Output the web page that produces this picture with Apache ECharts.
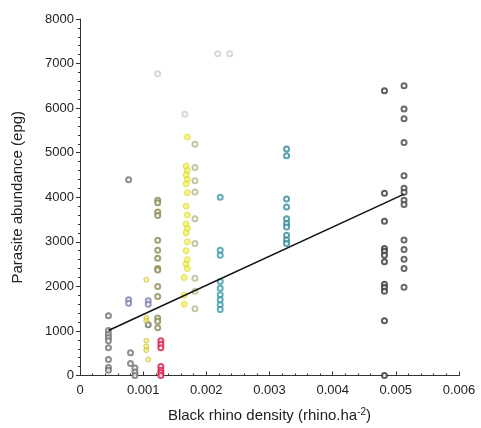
<!DOCTYPE html>
<html><head><meta charset="utf-8">
<script src="https://cdn.jsdelivr.net/npm/echarts@6/dist/echarts.min.js"></script>
<style>html,body{margin:0;padding:0;background:#fff}#c{width:481px;height:428px}</style>
</head><body><div id="c"></div>
<script>
// Tick values
const xTicks = [0, 0.001, 0.002, 0.003, 0.004, 0.005, 0.006];
const yTicks = [0, 1000, 2000, 3000, 4000, 5000, 6000, 7000, 8000];

// Points per site group: [density, abundance]
const grayLow = [[0.00045,1340],[0.00045,1010],[0.00045,920],[0.00045,850],[0.00045,780],[0.00045,620],[0.00045,360],[0.00045,180],[0.00045,120],
  [0.00077,4390],[0.0008,510],[0.0008,270],[0.00087,170],[0.00087,80],[0.00087,0],[0.00108,1140]];
const purple = [[0.00077,1700],[0.00077,1620],[0.00108,1680],[0.00108,1600]];
const yellowLow = [[0.00105,2150],[0.00105,1290],[0.00105,1230],[0.00105,780],[0.00105,650],[0.00105,570],[0.00108,360]];
const olive = [[0.00123,3930],[0.00123,3875],[0.00123,3670],[0.00123,3590],[0.00123,3035],[0.00123,2810],[0.00123,2630],[0.00123,2400],[0.00123,2370],[0.00123,2000],[0.00123,1775],[0.00123,1290],[0.00123,1220],[0.00123,1070]];
const red = [[0.00128,780],[0.00128,700],[0.00128,620],[0.00128,200],[0.00128,120],[0.00128,60],[0.00128,0]];
const yellow = [[0.0017,5350],[0.00168,4700],[0.0017,4600],[0.00168,4500],[0.0017,4400],[0.00168,4300],[0.0017,4100],[0.00168,3800],[0.0017,3600],[0.00168,3400],[0.0017,3300],[0.00168,3200],[0.0017,3000],[0.00168,2800],[0.0017,2600],[0.00168,2500],[0.0017,2400],[0.00165,2200],[0.00165,1800],[0.00165,1600]];
const paleGray = [[0.00182,5190],[0.00182,4670],[0.00182,4370],[0.00182,4120],[0.00182,3520],[0.00182,2960],[0.00182,2180],[0.00182,1890],[0.00182,1500]];
const tealA = [[0.00222,4000],[0.00222,2810],[0.00222,2700],[0.00222,2110],[0.00222,1960],[0.00222,1810],[0.00222,1700],[0.00222,1590],[0.00222,1480]];
const tealB = [[0.00327,5080],[0.00327,4930],[0.00327,3960],[0.00327,3780],[0.00327,3520],[0.00327,3410],[0.00327,3330],[0.00327,3150],[0.00327,3040],[0.00327,2960]];
const darkA = [[0.00482,6390],[0.00482,4090],[0.00482,3460],[0.00482,2850],[0.00482,2790],[0.00482,2700],[0.00482,2550],[0.00482,2050],[0.00482,1975],[0.00482,1890],[0.00482,1230],[0.00482,0]];
const darkB = [[0.00513,6500],[0.00513,5980],[0.00513,5760],[0.00513,5230],[0.00513,4480],[0.00513,4200],[0.00513,4110],[0.00513,3930],[0.00513,3840],[0.00513,3040],[0.00513,2830],[0.00513,2610],[0.00513,2400],[0.00513,1980]];
const faint = [[0.00123,6770],[0.00218,7220],[0.00237,7220],[0.00166,5860]];
// Regression line endpoints
const fitLine = [[0.00045,1010],[0.00513,4070]];

const FONT = 'Liberation Sans, Arial, sans-serif';
function sc(data, color, opts) {
  return Object.assign({
    type: 'scatter', data: data, symbol: 'emptyCircle', symbolSize: 5,
    itemStyle: { color: color, borderColor: color, borderWidth: 0.9 }, z: 3
  }, opts || {});
}
const minorAxis = (isX) => ({
  type: 'value', min: 0, max: isX ? 0.006 : 8000, interval: isX ? 0.0002 : 200,
  position: isX ? 'bottom' : 'left', offset: 0,
  axisLine: { show: false }, splitLine: { show: false }, axisLabel: { show: false },
  axisTick: { show: true, inside: isX, length: 2, lineStyle: { color: '#333', width: 1 } },
  silent: true
});
const chart = echarts.init(document.getElementById('c'), null, { renderer: 'canvas' });
chart.setOption({
  animation: false,
  backgroundColor: '#fff',
  grid: { left: 80, right: 22, top: 19, bottom: 50 },
  xAxis: [{
    type: 'value', min: 0, max: 0.006, interval: 0.001,
    axisLine: { show: true, lineStyle: { color: '#333', width: 1 } },
    axisTick: { show: true, inside: true, length: 4, lineStyle: { color: '#333' } },
    splitLine: { show: false },
    axisLabel: { color: '#222', fontFamily: FONT, fontSize: 13, margin: 8,
      formatter: v => { const t = xTicks.find(k => Math.abs(k - v) < 1e-9); return t === 0 ? '0' : String(t); } },
    name: '{a|Black rhino density (rhino.ha}{s|-2}{a|)}',
    nameLocation: 'middle', nameGap: 32,
    nameTextStyle: { rich: { a: { fontFamily: FONT, fontSize: 15, color: '#222' }, s: { fontFamily: FONT, fontSize: 10, color: '#222', verticalAlign: 'top', padding: [0,0,6,0] } } }
  }, minorAxis(true)],
  yAxis: [{
    type: 'value', min: 0, max: 8000, interval: 1000,
    axisLine: { show: true, lineStyle: { color: '#333', width: 1 } },
    axisTick: { show: true, inside: false, length: 4, lineStyle: { color: '#333' } },
    splitLine: { show: false },
    axisLabel: { color: '#222', fontFamily: FONT, fontSize: 13, margin: 6,
      formatter: v => { const t = yTicks.find(k => Math.abs(k - v) < 1e-6); return String(t); } },
    name: 'Parasite abundance (epg)', nameLocation: 'middle', nameGap: 55,
    nameTextStyle: { fontFamily: FONT, fontSize: 15, color: '#222' }
  }, minorAxis(false)],
  series: [
    sc(faint, '#cfcfcf'),
    sc(grayLow, '#707070'),
    sc(purple, '#7a80b0'),
    sc(yellowLow, '#d8d040', { symbol: 'circle', itemStyle: { color: 'rgba(230,225,60,0.6)', borderColor: '#c8b830', borderWidth: 0.9 } }),
    sc(olive, '#8a8a50'),
    sc(red, '#d81848'),
    sc(yellow, '#e6e640', { symbol: 'circle', symbolSize: 6, itemStyle: { color: 'rgba(235,235,60,0.75)', borderColor: '#e0d830', borderWidth: 0.9 } }),
    sc(paleGray, '#b8b890'),
    sc(tealA, '#3a9aaa'),
    sc(tealB, '#2e8a98'),
    sc(darkA, '#333333'),
    sc(darkB, '#444444'),
    { type: 'line', data: fitLine, symbol: 'none', lineStyle: { color: '#111', width: 1.5 }, z: 5 }
  ]
});
</script></body></html>
